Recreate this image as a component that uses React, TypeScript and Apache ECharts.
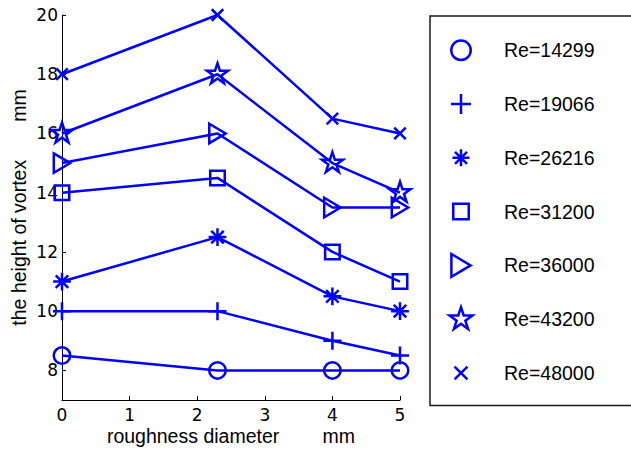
import React, { useEffect, useRef } from "react";
import * as echarts from "echarts";

// ---- data ----
const xValues = [0, 2.3, 4, 5];
const seriesNames = ["Re=14299", "Re=19066", "Re=26216", "Re=31200", "Re=36000", "Re=43200", "Re=48000"];
const re14299 = [8.5, 8, 8, 8];
const re19066 = [10, 10, 9, 8.5];
const re26216 = [11, 12.5, 10.5, 10];
const re31200 = [14, 14.5, 12, 11];
const re36000 = [15, 16, 13.5, 13.5];
const re43200 = [16, 18, 15, 14];
const re48000 = [18, 20, 16.5, 16];
const yTickValues = [8, 10, 12, 14, 16, 18, 20];
const xAxisTitle = "roughness diameter\u00a0\u00a0\u00a0\u00a0\u00a0\u00a0\u00a0\u00a0mm";
const yAxisTitle = "the height of vortex\u00a0\u00a0\u00a0\u00a0\u00a0\u00a0\u00a0mm";

// ---- styling ----
const BLUE = "#0000ff";
const FONT = "'Liberation Sans', Arial, Helvetica, sans-serif";
const TICK_FONT = "'DejaVu Sans', 'Liberation Sans', sans-serif";
const FS = 19.5;
const TICK_FS = 17;
const BOX = "M0 0M20 20";
const markerPaths = [
  `path://${BOX}M1.875 10A8.125 8.125 0 1 1 18.125 10A8.125 8.125 0 1 1 1.875 10Z`,
  `path://${BOX}M10 1.65L10 18.35M1.65 10L18.35 10`,
  `path://${BOX}M10 2.9L10 17.1M2.9 10L17.1 10M5 5L15 15M15 5L5 15`,
  `path://${BOX}M3.55 3.55L16.45 3.55L16.45 16.45L3.55 16.45Z`,
  `path://${BOX}M2 0.5L18 10L2 19.5Z`,
  `path://${BOX}M10 0L12.245 6.91L19.511 6.91L13.633 11.18L15.878 18.09L10 13.82L4.122 18.09L6.367 11.18L0.489 6.91L7.755 6.91Z`,
  `path://${BOX}M4.6 4.6L15.4 15.4M15.4 4.6L4.6 15.4`,
];
const markerSizes = [20.3, 21.6, 25, 22.5, 20.5, 22, 21.3];

export default function App() {
  const ref = useRef<HTMLDivElement>(null);
  useEffect(() => {
    if (!ref.current) return;
    const chart = echarts.init(ref.current, undefined, { renderer: "svg" });
    const allValues = [re14299, re19066, re26216, re31200, re36000, re43200, re48000];
    const series = seriesNames.map((name, k) => ({
      name,
      type: "line",
      data: xValues.map((x, i) => [x, allValues[k][i]]),
      symbol: markerPaths[k],
      symbolSize: markerSizes[k],
      showSymbol: true,
      clip: false,
      lineStyle: { color: BLUE, width: 2.5 },
      itemStyle: { color: "none", borderColor: BLUE, borderWidth: 2.5 },
      emphasis: { disabled: true },
      z: 2,
    }));
    chart.setOption({
      animation: false,
      backgroundColor: "#ffffff",
      textStyle: { fontFamily: FONT },
      grid: { left: 62, right: 231, top: 15, bottom: 51, containLabel: false, outerBoundsMode: "none" },
      xAxis: {
        type: "value",
        min: 0,
        max: 5,
        interval: 1,
        name: xAxisTitle,
        nameLocation: "middle",
        nameGap: 26,
        nameMoveOverlap: false,
        nameTextStyle: { fontSize: FS, color: "#000", fontFamily: FONT, lineHeight: 19 },
        axisLine: { show: true, lineStyle: { color: "#000", width: 1 } },
        axisTick: { show: true, inside: true, length: 4, lineStyle: { color: "#000" } },
        axisLabel: { fontSize: TICK_FS, color: "#000", margin: 8, fontFamily: TICK_FONT, lineHeight: 14 },
        splitLine: { show: false },
      },
      yAxis: {
        type: "value",
        min: 7,
        max: 20,
        name: yAxisTitle,
        nameLocation: "middle",
        nameGap: 33,
        nameMoveOverlap: false,
        nameRotate: 90,
        nameTextStyle: { fontSize: FS, color: "#000", fontFamily: FONT },
        axisLine: { show: true, lineStyle: { color: "#000", width: 1 } },
        axisTick: { show: true, inside: true, length: 4, customValues: yTickValues, lineStyle: { color: "#000" } },
        axisLabel: { fontSize: TICK_FS, color: "#000", margin: 4, customValues: yTickValues, fontFamily: TICK_FONT },
        splitLine: { show: false },
      },
      legend: {
        orient: "vertical",
        left: 430,
        top: 16,
        padding: [19.7, 90, 18, 16.5],
        itemGap: 24.8,
        itemWidth: 24,
        itemHeight: 24,
        selectedMode: false,
        borderColor: "#1a1a1a",
        borderWidth: 1.5,
        backgroundColor: "#fff",
        itemStyle: { color: "none", borderColor: BLUE, borderWidth: 2.5 },
        textStyle: { fontSize: FS, color: "#000", fontFamily: FONT, padding: [0, 0, 0, 26], lineHeight: 24 },
        data: seriesNames.map((name, k) => ({ name, icon: markerPaths[k] })),
      },
      series,
    });
    return () => chart.dispose();
  }, []);
  return <div ref={ref} style={{ position: "absolute", left: 0, top: 0, width: 631, height: 451 }} />;
}
